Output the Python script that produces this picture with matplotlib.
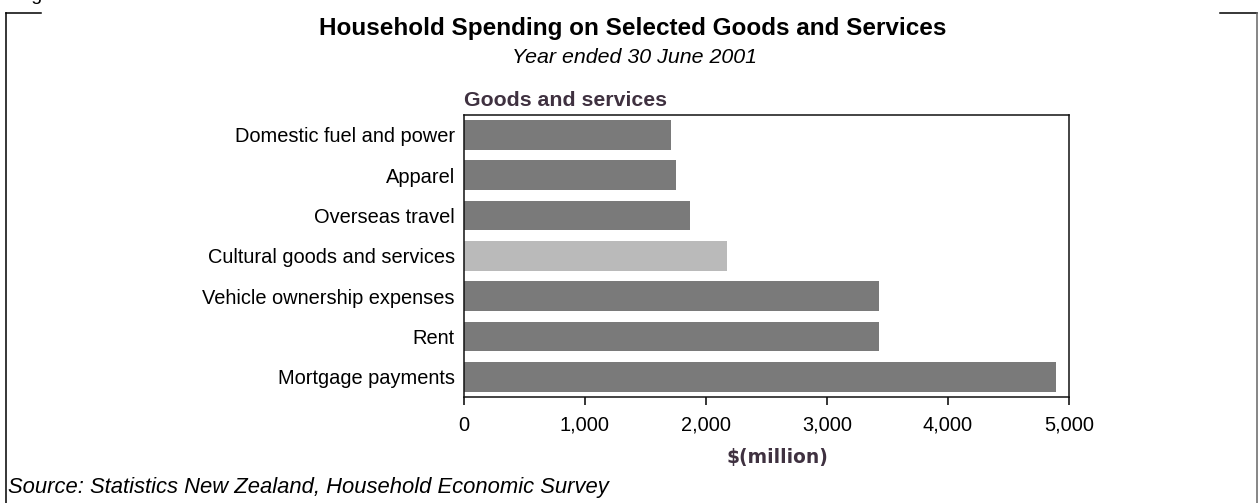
import matplotlib.pyplot as plt
from matplotlib.lines import Line2D

# household spending by category, $ million, year to June 2001
categories = [
    "Domestic fuel and power",
    "Apparel",
    "Overseas travel",
    "Cultural goods and services",
    "Vehicle ownership expenses",
    "Rent",
    "Mortgage payments",
]
spending = [1710, 1750, 1870, 2170, 3430, 3430, 4890]
highlight = "Cultural goods and services"
x_ticks = [0, 1000, 2000, 3000, 4000, 5000]
x_ticklabels = ["0", "1,000", "2,000", "3,000", "4,000", "5,000"]

dark_bar = "#7a7a7a"
light_bar = "#bababa"
label_col = "#3f3140"

plt.rcParams["font.family"] = ["Liberation Sans", "DejaVu Sans"]

fig = plt.figure(figsize=(12.58, 5.03), dpi=100)
ax = fig.add_axes([0.3688, 0.2107, 0.481, 0.5613])

colors = [light_bar if c == highlight else dark_bar for c in categories]
ax.barh(range(len(categories)), spending, height=0.73, color=colors)
ax.set_ylim(len(categories) - 0.5, -0.5)
ax.set_xlim(0, 5000)
ax.set_yticks(range(len(categories)))
ax.set_yticklabels(categories, fontsize=14.4)
ax.set_xticks(x_ticks)
ax.set_xticklabels(x_ticklabels, fontsize=14.4)
ax.tick_params(axis="y", length=0, pad=6.5)
ax.tick_params(axis="x", length=6, width=1.1, pad=7.5, direction="out")
for s in ax.spines.values():
    s.set_linewidth(1.1)
    s.set_color("#111111")

# titles
fig.text(0.503, 0.944, "Household Spending on Selected Goods and Services",
         ha="center", va="center", fontsize=17.5, fontweight="bold")
fig.text(0.504, 0.885, "Year ended 30 June 2001", ha="center", va="center",
         fontsize=15.4, style="italic")
fig.text(464 / 1258, 1 - 101 / 503, "Goods and services", ha="left",
         va="center", fontsize=15.3, fontweight="bold", color=label_col)
fig.text(777 / 1258, 1 - 457 / 503, "$(million)", ha="center", va="center",
         fontsize=13.4, fontweight="bold", color=label_col,
         family=["DejaVu Sans"])
fig.text(8 / 1258, 1 - 488 / 503,
         "Source: Statistics New Zealand, Household Economic Survey",
         ha="left", va="center", fontsize=15.8, style="italic")
fig.text(15 / 1258, 1.0, "Figure", ha="left", va="baseline", fontsize=14)

# frame around the figure, broken at the top
top = 1 - 12.7 / 503
xl, xr = 6.5 / 1258, 1256.5 / 1258
for xs, ys, col in [([xl, xl], [top, 0], "black"),
                    ([xl, 41 / 1258], [top, top], "black"),
                    ([1220 / 1258, xr], [top, top], "black"),
                    ([xr, xr], [top, 0], "#666666")]:
    fig.add_artist(Line2D(xs, ys, color=col, lw=1.1, transform=fig.transFigure))

fig.savefig("out.png", dpi=100)
